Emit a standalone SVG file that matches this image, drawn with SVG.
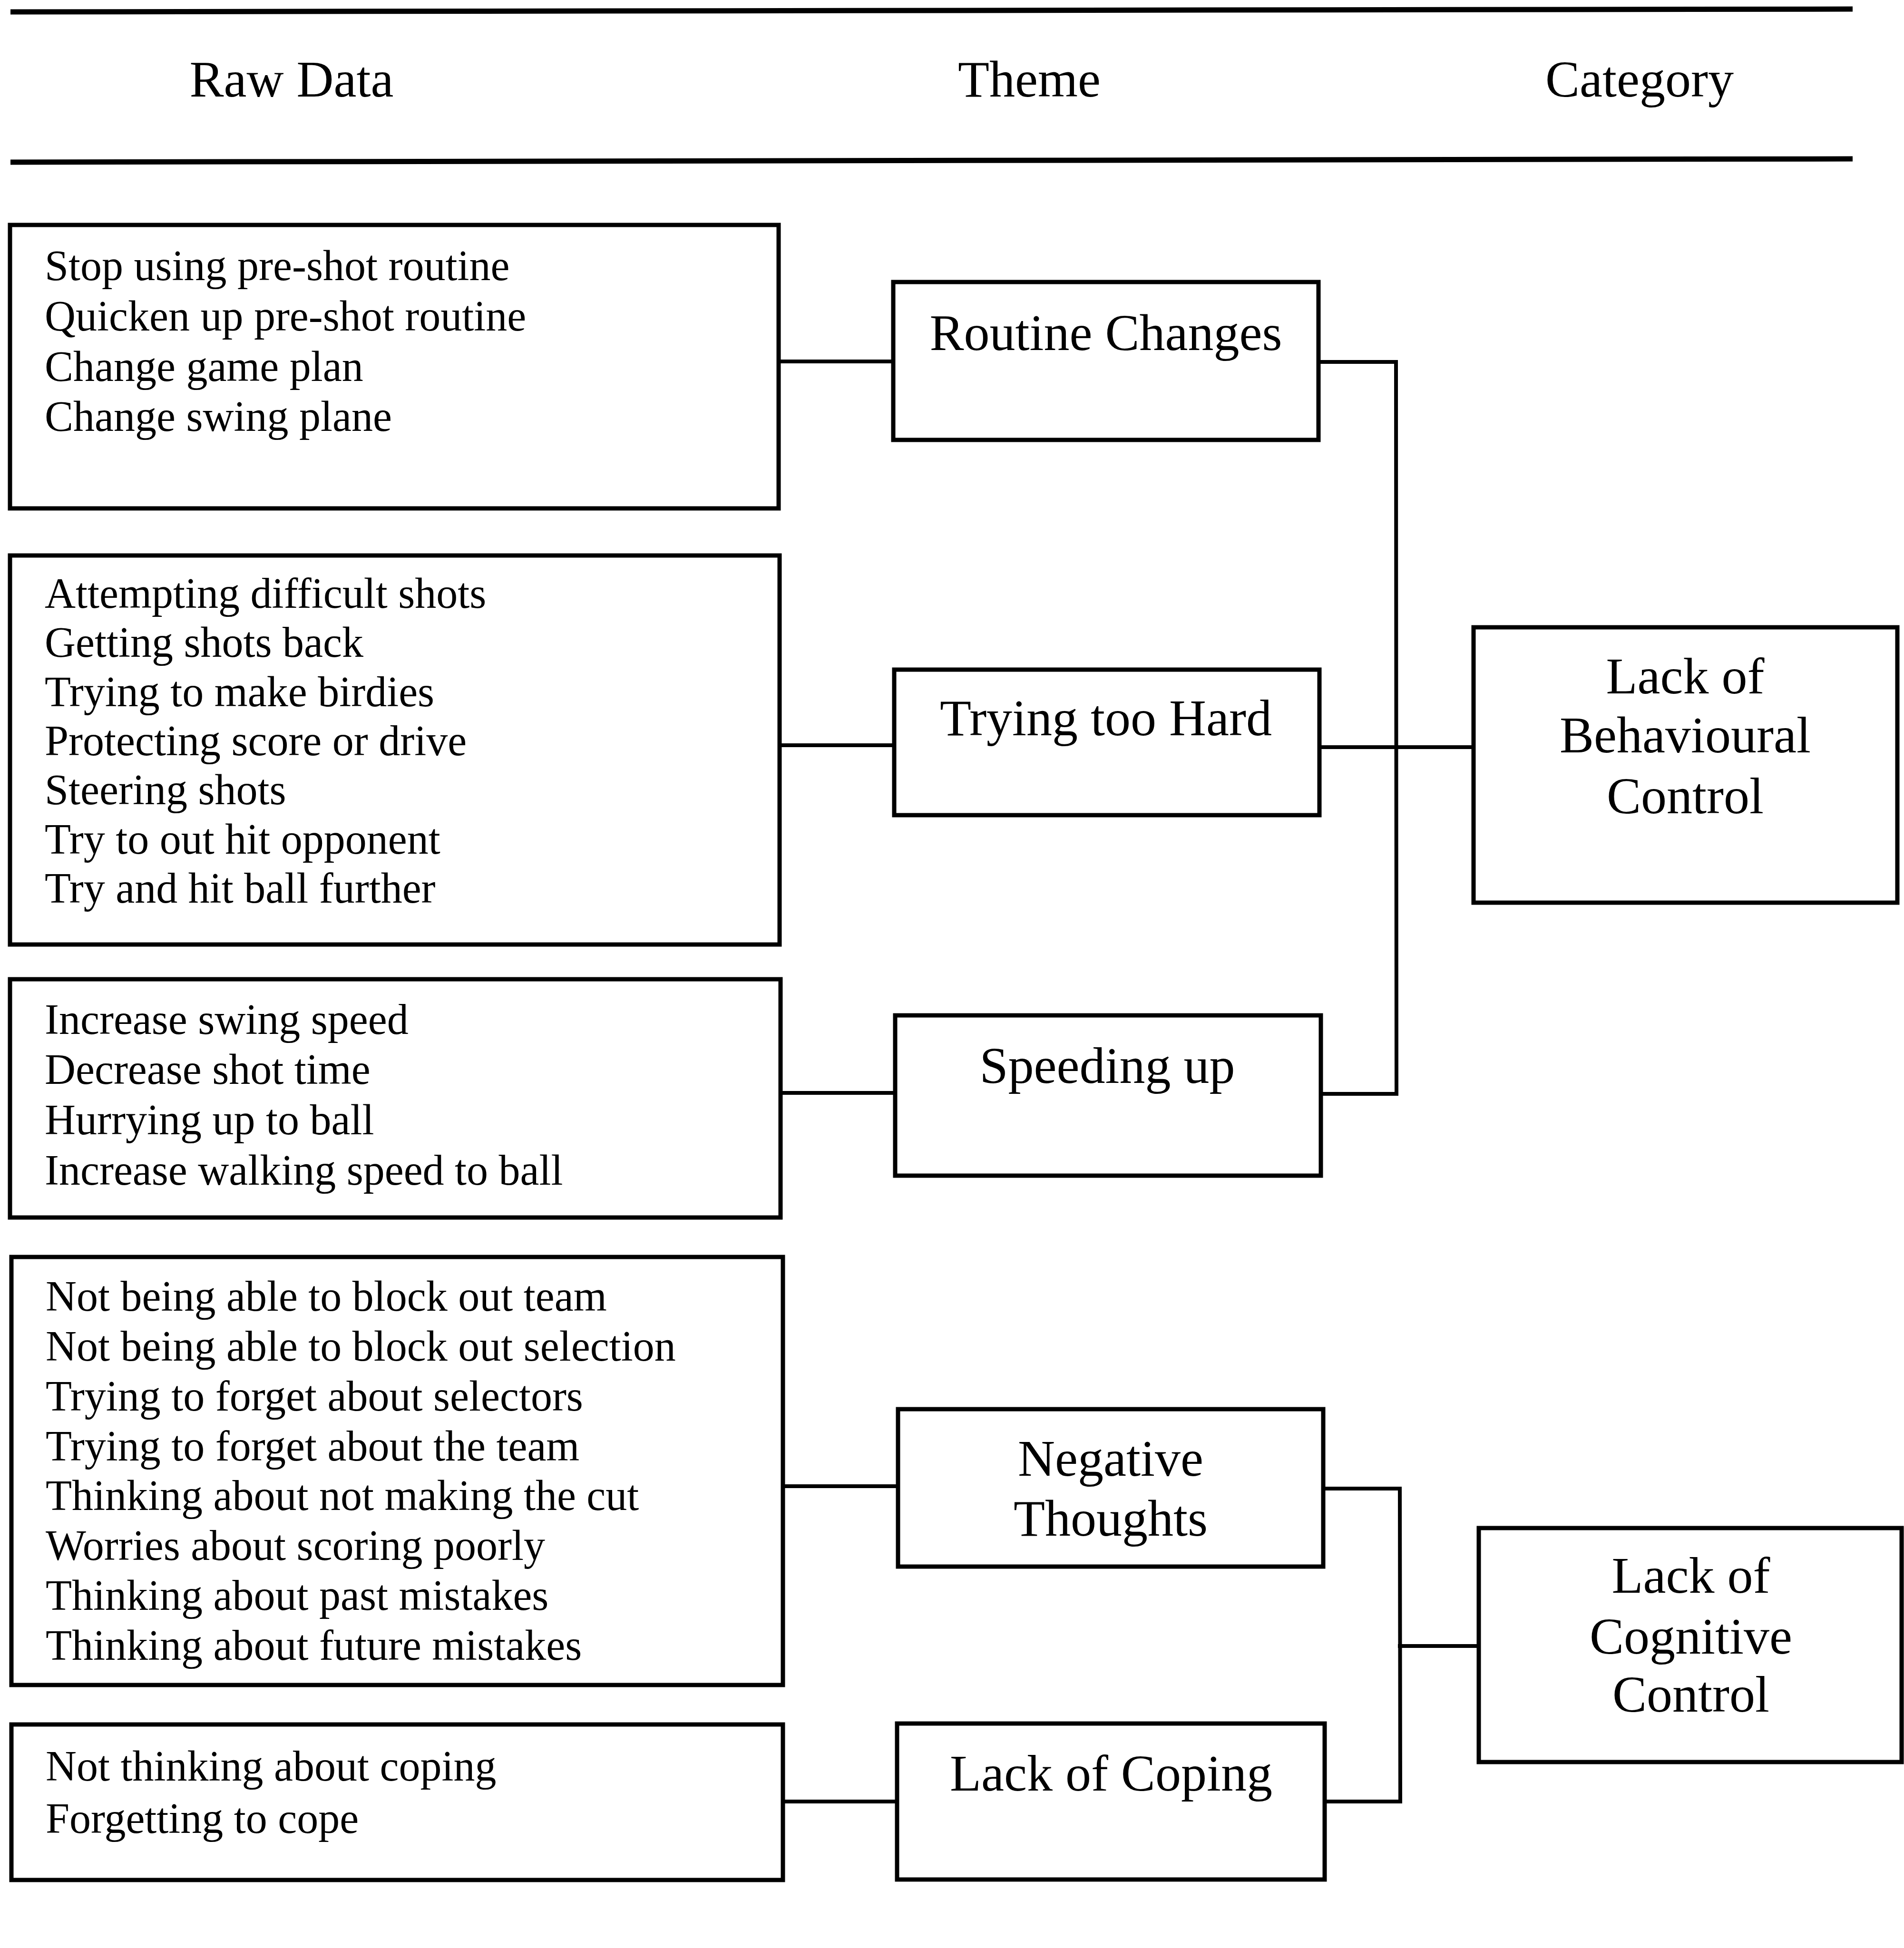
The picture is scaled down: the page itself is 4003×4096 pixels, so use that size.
<svg xmlns="http://www.w3.org/2000/svg" width="4003" height="4096" viewBox="0 0 4003 4096">
<style>
  text { font-family: "Liberation Serif", "Times New Roman", serif; fill: #000; }
  .hdr { font-size: 108px; text-anchor: middle; }
  .raw { font-size: 90px; }
  .th { font-size: 108px; text-anchor: middle; }
  .box { fill: #fff; stroke: #000; stroke-width: 9; }
  .rule { stroke: #000; stroke-width: 11; fill: none; }
  .conn { stroke: #000; stroke-width: 8; fill: none; stroke-linecap: square; }
</style>
<rect x="0" y="0" width="4003" height="4096" fill="#fff"/>

<g id="header">
  <line class="rule" x1="22" y1="25" x2="3895" y2="19"/>
  <line class="rule" x1="22" y1="341" x2="3895" y2="334"/>
  <text class="hdr" x="613" y="203">Raw Data</text>
  <text class="hdr" x="2164" y="203">Theme</text>
  <text class="hdr" x="3447" y="203">Category</text>
</g>

<g id="connectors">
  <line class="conn" x1="1637" y1="760" x2="1878" y2="760"/>
  <line class="conn" x1="1639" y1="1567" x2="1880" y2="1567"/>
  <line class="conn" x1="1641" y1="2298" x2="1882" y2="2298"/>
  <line class="conn" x1="1646" y1="3125" x2="1888" y2="3125"/>
  <line class="conn" x1="1646" y1="3788" x2="1886" y2="3788"/>
  <polyline class="conn" points="2772,761 2935,761 2936,2300 2777,2300"/>
  <line class="conn" x1="2774" y1="1571" x2="3098" y2="1571"/>
  <polyline class="conn" points="2782,3130 2943,3130 2944,3788 2785,3788"/>
  <line class="conn" x1="2943" y1="3461" x2="3109" y2="3461"/>
</g>

<g id="raw1">
  <rect class="box" x="21" y="473" width="1616" height="596"/>
  <text class="raw" x="94" y="589">Stop using pre-shot routine</text>
  <text class="raw" x="94" y="695">Quicken up pre-shot routine</text>
  <text class="raw" x="94" y="801">Change game plan</text>
  <text class="raw" x="94" y="906">Change swing plane</text>
</g>

<g id="raw2">
  <rect class="box" x="21" y="1168" width="1618" height="818"/>
  <text class="raw" x="94" y="1278">Attempting difficult shots</text>
  <text class="raw" x="94" y="1381">Getting shots back</text>
  <text class="raw" x="94" y="1485">Trying to make birdies</text>
  <text class="raw" x="94" y="1588">Protecting score or drive</text>
  <text class="raw" x="94" y="1691">Steering shots</text>
  <text class="raw" x="94" y="1795">Try to out hit opponent</text>
  <text class="raw" x="94" y="1898">Try and hit ball further</text>
</g>

<g id="raw3">
  <rect class="box" x="21" y="2059" width="1620" height="501"/>
  <text class="raw" x="94" y="2174">Increase swing speed</text>
  <text class="raw" x="94" y="2279">Decrease shot time</text>
  <text class="raw" x="94" y="2385">Hurrying up to ball</text>
  <text class="raw" x="94" y="2491">Increase walking speed to ball</text>
</g>

<g id="raw4">
  <rect class="box" x="24" y="2643" width="1622" height="900"/>
  <text class="raw" x="96" y="2756">Not being able to block out team</text>
  <text class="raw" x="96" y="2861">Not being able to block out selection</text>
  <text class="raw" x="96" y="2966">Trying to forget about selectors</text>
  <text class="raw" x="96" y="3071">Trying to forget about the team</text>
  <text class="raw" x="96" y="3175">Thinking about not making the cut</text>
  <text class="raw" x="96" y="3280">Worries about scoring poorly</text>
  <text class="raw" x="96" y="3385">Thinking about past mistakes</text>
  <text class="raw" x="96" y="3490">Thinking about future mistakes</text>
</g>

<g id="raw5">
  <rect class="box" x="24" y="3626" width="1622" height="327"/>
  <text class="raw" x="96" y="3744">Not thinking about coping</text>
  <text class="raw" x="96" y="3854">Forgetting to cope</text>
</g>

<g id="theme1">
  <rect class="box" x="1878" y="593" width="894" height="332"/>
  <text class="th" x="2325" y="736">Routine Changes</text>
</g>
<g id="theme2">
  <rect class="box" x="1880" y="1408" width="894" height="306"/>
  <text class="th" x="2325" y="1546">Trying too Hard</text>
</g>
<g id="theme3">
  <rect class="box" x="1882" y="2135" width="895" height="337"/>
  <text class="th" x="2328" y="2277">Speeding up</text>
</g>
<g id="theme4">
  <rect class="box" x="1888" y="2963" width="894" height="331"/>
  <text class="th" x="2335" y="3103">Negative</text>
  <text class="th" x="2335" y="3229">Thoughts</text>
</g>
<g id="theme5">
  <rect class="box" x="1886" y="3624" width="899" height="328"/>
  <text class="th" x="2336" y="3765">Lack of Coping</text>
</g>

<g id="category1">
  <rect class="box" x="3098" y="1319" width="891" height="579"/>
  <text class="th" x="3543" y="1458">Lack of</text>
  <text class="th" x="3543" y="1582">Behavioural</text>
  <text class="th" x="3543" y="1710">Control</text>
</g>
<g id="category2">
  <rect class="box" x="3109" y="3213" width="889" height="492"/>
  <text class="th" x="3555" y="3349">Lack of</text>
  <text class="th" x="3555" y="3477">Cognitive</text>
  <text class="th" x="3555" y="3599">Control</text>
</g>
</svg>
